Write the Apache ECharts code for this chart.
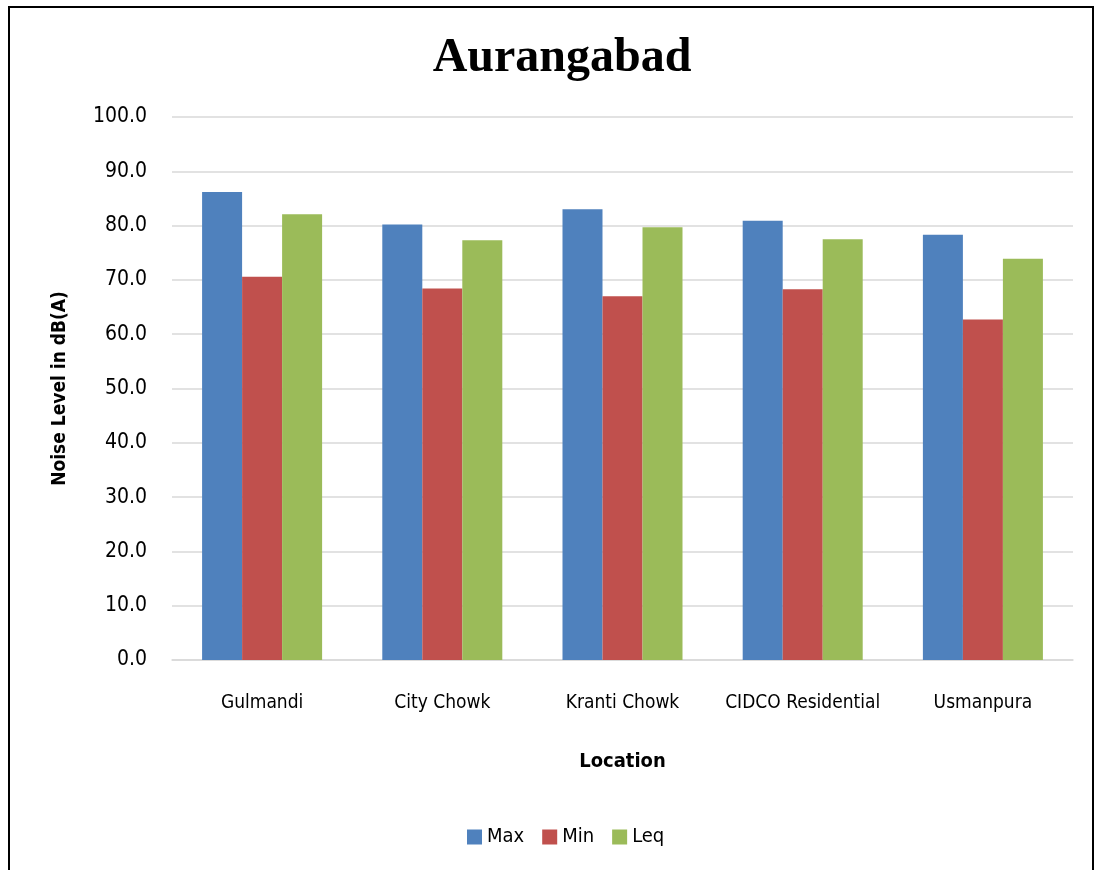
<!DOCTYPE html>
<html><head><meta charset="utf-8">
<script src="https://cdn.jsdelivr.net/npm/echarts@6/dist/echarts.min.js"></script>
<style>html,body{margin:0;padding:0;background:#fff}#c{width:1096px;height:870px}</style>
</head><body><div id="c"></div>
<script>
const categories = ['Gulmandi', 'City Chowk', 'Kranti Chowk', 'CIDCO Residential', 'Usmanpura'];
const maxValues = [86.2, 80.2, 83.0, 80.9, 78.3];
const minValues = [70.6, 68.4, 67.0, 68.3, 62.7];
const leqValues = [82.1, 77.3, 79.7, 77.5, 73.9];
const seriesNames = ['Max', 'Min', 'Leq'];
const colors = ['#4F81BD', '#C0504D', '#9BBB59'];

const FONT = '"DejaVu Sans Condensed","Liberation Sans Narrow",sans-serif';
const chart = echarts.init(document.getElementById('c'));
const dataSets = [maxValues, minValues, leqValues];
chart.setOption({
  animation: false,
  backgroundColor: '#fff',
  title: {
    text: 'Aurangabad', left: 557, textAlign: 'center', top: 30,
    textStyle: {fontFamily: '"Liberation Serif","Times New Roman",serif', fontWeight: 'bold', fontSize: 48, color: '#000'}
  },
  graphic: [{
    type: 'rect', shape: {x: 9, y: 7, width: 1084, height: 900},
    style: {fill: 'none', stroke: '#000', lineWidth: 2}, silent: true, z: 100
  }],
  legend: {
    data: seriesNames, left: 462, top: 822, itemWidth: 15, itemHeight: 15, itemGap: 18,
    icon: 'rect',
    textStyle: {fontFamily: FONT, fontSize: 20, color: '#000'}
  },
  grid: {left: 172, right: 23, top: 117, bottom: 210},
  xAxis: {
    type: 'category', data: categories,
    axisLine: {lineStyle: {color: '#d9d9d9', width: 1.5}},
    axisTick: {show: false},
    axisLabel: {fontFamily: FONT, fontSize: 19, color: '#000', margin: 34, interval: 0},
    name: 'Location', nameLocation: 'middle', nameGap: 92,
    nameTextStyle: {fontFamily: FONT, fontSize: 20, fontWeight: 'bold', color: '#000'}
  },
  yAxis: {
    type: 'value', min: 0, max: 100, interval: 10,
    axisLine: {show: false}, axisTick: {show: false},
    splitLine: {lineStyle: {color: '#d9d9d9', width: 1.5}},
    axisLabel: {fontFamily: FONT, fontSize: 21, color: '#000', margin: 25, formatter: v => v.toFixed(1)},
    name: 'Noise Level in dB(A)', nameLocation: 'middle', nameGap: 102,
    nameTextStyle: {fontFamily: FONT, fontSize: 19, fontWeight: 'bold', color: '#000'}
  },
  series: seriesNames.map((n, i) => ({
    name: n, type: 'bar', data: dataSets[i], barGap: '0%', barCategoryGap: '33.4%',
    itemStyle: {color: colors[i]}
  }))
});
</script></body></html>
